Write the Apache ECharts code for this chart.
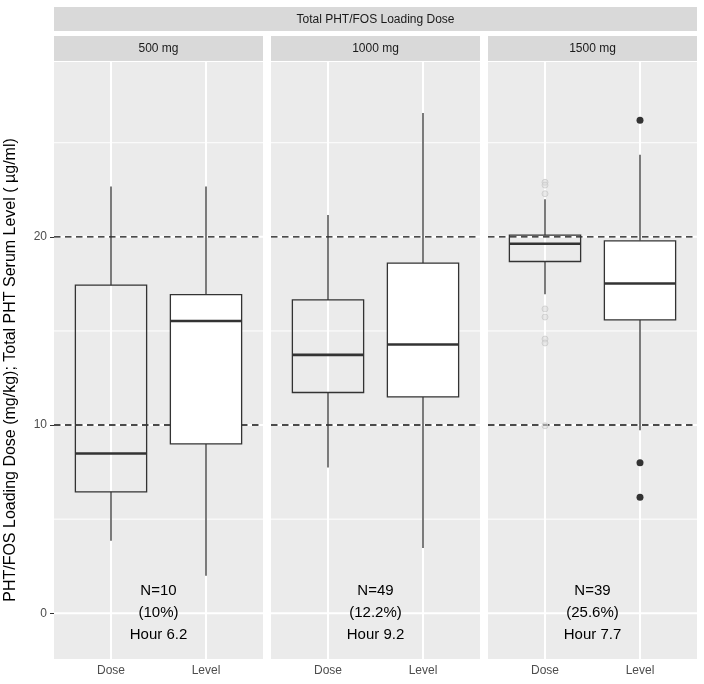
<!DOCTYPE html>
<html>
<head>
<meta charset="utf-8">
<script src="https://cdn.jsdelivr.net/npm/echarts@6/dist/echarts.min.js"></script>
<style>
html,body{margin:0;padding:0;background:#fff;}
#chart{width:704px;height:684px;}
</style>
</head>
<body>
<div id="chart"></div>
<script>
// ---- data ----
const outerStrip = 'Total PHT/FOS Loading Dose';
const panels = ['500 mg', '1000 mg', '1500 mg'];
const groups = ['Dose', 'Level'];
// [min, Q1, median, Q3, max]
const doseBox = [
  [3.85, 6.45, 8.49, 17.43, 22.67],
  [7.74, 11.73, 13.73, 16.65, 21.16],
  [16.95, 18.69, 19.63, 20.09, 22.0]
];
const levelBox = [
  [1.99, 9.0, 15.53, 16.93, 22.67],
  [3.47, 11.5, 14.28, 18.6, 26.58],
  [9.73, 15.59, 17.52, 19.79, 24.36]
];
const doseOutliers = [[], [], [22.9, 22.75, 22.29, 16.17, 15.74, 14.57, 14.36, 9.96]];
const levelOutliers = [[], [], [26.19, 8.0, 6.17]];
const nLabels = ['N=10', 'N=49', 'N=39'];
const pctLabels = ['(10%)', '(12.2%)', '(25.6%)'];
const hourLabels = ['Hour 6.2', 'Hour 9.2', 'Hour 7.7'];
const refLines = [10, 20];
const majorY = [0, 10, 20];
const minorY = [5, 15, 25];
const yTicks = [0, 10, 20];
const xTicks = [1, 2];
const yTitle = 'PHT/FOS Loading Dose (mg/kg); Total PHT Serum Level ( µg/ml)';

// ---- layout ----
const FONT = 'Liberation Sans, Arial, Helvetica, sans-serif';
const gridLefts = [54, 271, 488];
const gridW = 209, gridTop = 62, gridH = 597;
const yMin = -2.43, yMax = 29.29;

const chart = echarts.init(document.getElementById('chart'));

function renderGrid(params, api) {
  const cs = params.coordSys;
  const kind = api.value(0), v = api.value(1), major = api.value(2);
  if (kind === 0) {
    const y = api.coord([1, v])[1];
    return {type: 'line', shape: {x1: cs.x, y1: y, x2: cs.x + cs.width, y2: y},
      style: {stroke: '#ffffff', lineWidth: major ? 2 : 1}};
  } else if (kind === 1) {
    const x = api.coord([v, 0])[0];
    return {type: 'line', shape: {x1: x, y1: cs.y, x2: x, y2: cs.y + cs.height},
      style: {stroke: '#ffffff', lineWidth: 2}};
  } else {
    const y = api.coord([1, v])[1];
    return {type: 'line', shape: {x1: cs.x, y1: y, x2: cs.x + cs.width, y2: y},
      style: {stroke: '#111111', lineWidth: 1.4, lineDash: [6.5, 4.5]}};
  }
}

function renderBox(params, api) {
  const x = api.value(0);
  const lo = api.coord([x, api.value(1)]);
  const q1 = api.coord([x, api.value(2)]);
  const md = api.coord([x, api.value(3)]);
  const q3 = api.coord([x, api.value(4)]);
  const hi = api.coord([x, api.value(5)]);
  const hw = api.size([0.75, 0])[0] / 2;
  const cx = lo[0];
  const fill = api.value(6) ? '#ffffff' : 'none';
  const ln = {stroke: '#333333', lineWidth: 1.3};
  return {type: 'group', children: [
    {type: 'line', shape: {x1: cx, y1: q3[1], x2: cx, y2: hi[1]}, style: ln},
    {type: 'line', shape: {x1: cx, y1: q1[1], x2: cx, y2: lo[1]}, style: ln},
    {type: 'rect', shape: {x: cx - hw, y: q3[1], width: 2 * hw, height: q1[1] - q3[1]},
      style: {fill: fill, stroke: '#333333', lineWidth: 1.3}},
    {type: 'line', shape: {x1: cx - hw, y1: md[1], x2: cx + hw, y2: md[1]},
      style: {stroke: '#333333', lineWidth: 2.6}}
  ]};
}

function renderText(params, api) {
  const p = api.coord([api.value(0), api.value(1)]);
  const idx = api.value(2);
  return {type: 'text', x: p[0], y: p[1],
    style: {text: [nLabels[idx], pctLabels[idx], hourLabels[idx]].join('\n'),
      textAlign: 'center', textVerticalAlign: 'middle',
      fontFamily: FONT, fontSize: 15, lineHeight: 22, fill: '#000000'}};
}

const grids = [], xAxes = [], yAxes = [], series = [];
const graphics = [
  {type: 'rect', shape: {x: 54, y: 7, width: 643, height: 24}, style: {fill: '#D9D9D9'}},
  {type: 'text', x: 375.5, y: 19.5, style: {text: outerStrip, textAlign: 'center', textVerticalAlign: 'middle',
    fontFamily: FONT, fontSize: 12, fill: '#1A1A1A'}},
  {type: 'text', x: 11, y: 370, rotation: Math.PI / 2,
    style: {text: yTitle, textAlign: 'center', textVerticalAlign: 'middle',
      fontFamily: FONT, fontSize: 16, fill: '#000000'}}
];

panels.forEach((p, i) => {
  grids.push({left: gridLefts[i], top: gridTop, width: gridW, height: gridH,
    show: true, backgroundColor: '#EBEBEB', borderWidth: 0, containLabel: false});
  graphics.push({type: 'rect', shape: {x: gridLefts[i], y: 36, width: gridW, height: 25}, style: {fill: '#D9D9D9'}});
  graphics.push({type: 'text', x: gridLefts[i] + gridW / 2, y: 48.5,
    style: {text: p, textAlign: 'center', textVerticalAlign: 'middle', fontFamily: FONT, fontSize: 12, fill: '#1A1A1A'}});
  xAxes.push({type: 'value', gridIndex: i, min: 0.4, max: 2.6,
    axisLine: {show: false}, splitLine: {show: false},
    axisTick: {show: true, customValues: xTicks, length: 4, lineStyle: {color: '#333333', width: 1}},
    axisLabel: {show: true, customValues: xTicks, formatter: v => groups[Math.round(v) - 1],
      color: '#4D4D4D', fontSize: 12, fontFamily: FONT, margin: 6}});
  yAxes.push({type: 'value', gridIndex: i, min: yMin, max: yMax,
    axisLine: {show: false}, splitLine: {show: false},
    axisTick: {show: i === 0, customValues: yTicks, length: 4, lineStyle: {color: '#333333', width: 1}},
    axisLabel: {show: i === 0, customValues: yTicks, color: '#4D4D4D', fontSize: 12, fontFamily: FONT, margin: 7}});

  const gridData = [];
  majorY.forEach(v => gridData.push([0, v, 1]));
  minorY.forEach(v => gridData.push([0, v, 0]));
  xTicks.forEach(v => gridData.push([1, v, 1]));
  refLines.forEach(v => gridData.push([2, v, 0]));
  series.push({type: 'custom', xAxisIndex: i, yAxisIndex: i, z: 1, silent: true,
    renderItem: renderGrid, data: gridData, clip: false});

  series.push({type: 'custom', xAxisIndex: i, yAxisIndex: i, z: 3, silent: true,
    renderItem: renderBox,
    data: [[1].concat(doseBox[i], [0]), [2].concat(levelBox[i], [1])]});

  series.push({type: 'scatter', xAxisIndex: i, yAxisIndex: i, z: 4, silent: true,
    symbol: 'circle', symbolSize: 6,
    itemStyle: {color: 'rgba(218,218,218,0.7)', borderColor: '#CACACA', borderWidth: 1},
    data: doseOutliers[i].map(v => [1, v])});
  series.push({type: 'scatter', xAxisIndex: i, yAxisIndex: i, z: 4, silent: true,
    symbol: 'circle', symbolSize: 7, itemStyle: {color: '#333333', opacity: 1},
    data: levelOutliers[i].map(v => [2, v])});

  series.push({type: 'custom', xAxisIndex: i, yAxisIndex: i, z: 5, silent: true,
    renderItem: renderText, data: [[1.5, 0, i]]});
});

chart.setOption({
  animation: false,
  backgroundColor: '#ffffff',
  grid: grids, xAxis: xAxes, yAxis: yAxes, series: series,
  graphic: graphics
});
</script>
</body>
</html>
